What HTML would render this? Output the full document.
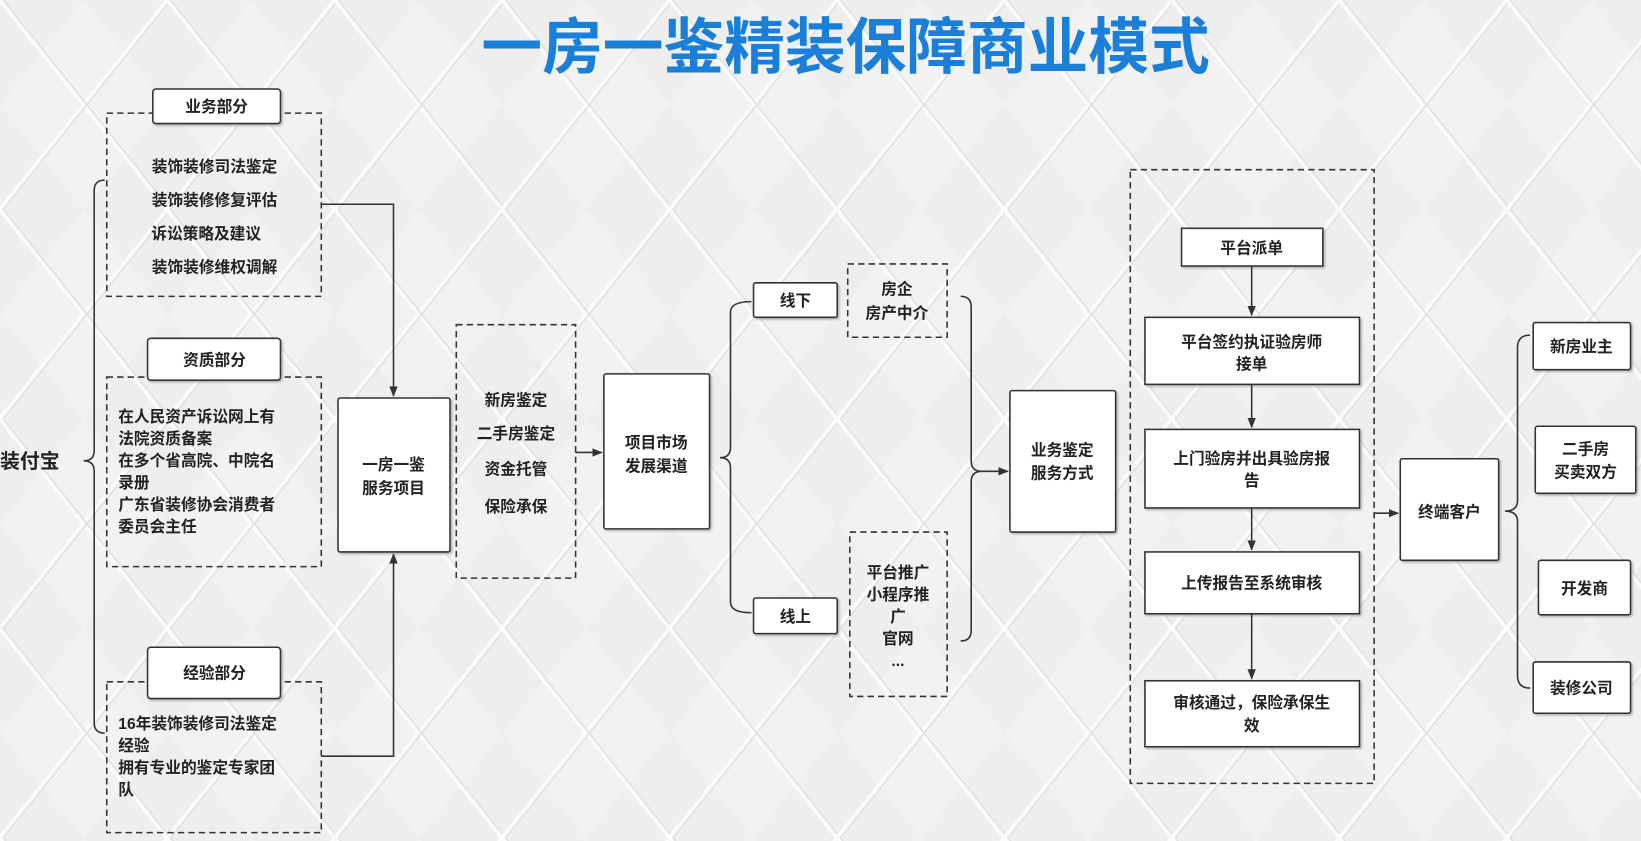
<!DOCTYPE html>
<html><head><meta charset="utf-8"><style>
html,body{margin:0;padding:0;background:#efefef;}
svg{display:block;}
text{font-family:"Liberation Sans","Noto Sans CJK SC",sans-serif;font-weight:bold;fill:#222;}
</style></head><body>
<svg width="1641" height="841" viewBox="0 0 1568 803" preserveAspectRatio="none" xmlns="http://www.w3.org/2000/svg">
<defs>
<pattern id="p" width="160" height="200" patternUnits="userSpaceOnUse">
<rect width="160" height="200" fill="#eeeeee"/>
<path d="M80 0 L160 100 L80 200 L0 100 Z" fill="#f2f2f2"/>
<path d="M0 0 L80 100 L0 200 M160 0 L80 100 L160 200" stroke="#fbfbfb" stroke-width="4" fill="none"/>
<path d="M0 0 L80 100 L0 200 M160 0 L80 100 L160 200" stroke="#e0e0e0" stroke-width="1.5" fill="none" transform="translate(3,0)"/>
</pattern>
<marker id="a" markerWidth="10" markerHeight="10" refX="9" refY="5" orient="auto" markerUnits="userSpaceOnUse"><path d="M0 1 L10 5 L0 9 Z" fill="#333"/></marker>
<filter id="s"><feDropShadow dx="1.5" dy="1.5" stdDeviation="1" flood-color="#888" flood-opacity="0.6"/></filter>
</defs>
<rect width="1568" height="803" fill="url(#p)"/>
<text x="808" y="65" text-anchor="middle" font-size="58" style="fill:#1a7fd8">一房一鉴精装保障商业模式</text>

<g fill="none" stroke="#333" stroke-width="1.5">
<path d="M100 172 Q90 172 90 182 L90 430 Q90 440 80 440 Q90 440 90 450 L90 690 Q90 700 100 700"/>
</g>
<text x="0" y="447" font-size="19">装付宝</text>

<g fill="#fff" stroke="#333" stroke-width="1.5" stroke-dasharray="6,4">
<rect x="102" y="108" width="205" height="175" fill="none"/>
<rect x="102" y="360" width="205" height="181" fill="none"/>
<rect x="102" y="651" width="205" height="144" fill="none"/>
<rect x="436" y="310" width="114" height="242" fill="none"/>
<rect x="810" y="252" width="95" height="70" fill="none"/>
<rect x="812" y="508" width="93" height="157" fill="none"/>
<rect x="1080" y="162" width="233" height="586" fill="none"/>
</g>
<g fill="#fff" stroke="#333" stroke-width="1.5" filter="url(#s)">
<rect x="146" y="85" width="122" height="33" rx="3"/>
<rect x="141" y="323" width="127" height="40" rx="3"/>
<rect x="141" y="618" width="127" height="49" rx="3"/>
<rect x="323" y="380" width="107" height="147" rx="2"/>
<rect x="577" y="357" width="101" height="148" rx="2"/>
<rect x="720" y="270" width="80" height="33" rx="2"/>
<rect x="720" y="571" width="80" height="34" rx="2"/>
<rect x="965" y="373" width="101" height="135" rx="2"/>
<rect x="1129" y="218" width="135" height="36"/>
<rect x="1094" y="303" width="205" height="64"/>
<rect x="1094" y="410" width="205" height="75"/>
<rect x="1094" y="527" width="205" height="59"/>
<rect x="1094" y="650" width="205" height="63"/>
<rect x="1338" y="438" width="94" height="97" rx="2"/>
<rect x="1465" y="308" width="93" height="45" rx="2"/>
<rect x="1467" y="407" width="96" height="64" rx="2"/>
<rect x="1470" y="535" width="88" height="52" rx="2"/>
<rect x="1465" y="632" width="93" height="49" rx="2"/>
</g>

<g fill="none" stroke="#333" stroke-width="1.5">
<path d="M307 195 L376 195 L376 378" marker-end="url(#a)"/>
<path d="M307 722 L376 722 L376 529" marker-end="url(#a)"/>
<path d="M550 432 L575 432" marker-end="url(#a)"/>
<path d="M718 288 Q698 288 698 298 L698 427 Q698 437 688 437 Q698 437 698 447 L698 575 Q698 585 718 585"/>
<path d="M918 283 Q928 283 928 293 L928 440 Q928 450 938 450 Q928 450 928 460 L928 602 Q928 612 918 612"/>
<path d="M938 450 L963 450" marker-end="url(#a)"/>
<path d="M1196 254 L1196 301" marker-end="url(#a)"/>
<path d="M1196 367 L1196 408" marker-end="url(#a)"/>
<path d="M1196 485 L1196 525" marker-end="url(#a)"/>
<path d="M1196 586 L1196 648" marker-end="url(#a)"/>
<path d="M1313 490 L1336 490" marker-end="url(#a)"/>
<path d="M1462 320 Q1450 320 1450 332 L1450 478 Q1450 488 1438 488 Q1450 488 1450 498 L1450 645 Q1450 657 1462 657"/>
</g>

<g font-size="15" text-anchor="middle">
<text x="207" y="107">业务部分</text>
<text x="205" y="349">资质部分</text>
<text x="205" y="648">经验部分</text>
<text x="205" y="164">装饰装修司法鉴定</text>
<text x="205" y="196">装饰装修修复评估</text>
<text x="197" y="228">诉讼策略及建议</text>
<text x="205" y="260">装饰装修维权调解</text>
<text x="376" y="449">一房一鉴</text>
<text x="376" y="471">服务项目</text>
<text x="493" y="387">新房鉴定</text>
<text x="493" y="419">二手房鉴定</text>
<text x="493" y="453">资金托管</text>
<text x="493" y="489">保险承保</text>
<text x="627" y="428">项目市场</text>
<text x="627" y="450">发展渠道</text>
<text x="760" y="292">线下</text>
<text x="760" y="594">线上</text>
<text x="857" y="281">房企</text>
<text x="857" y="304">房产中介</text>
<text x="858" y="552">平台推广</text>
<text x="858" y="573">小程序推</text>
<text x="858" y="594">广</text>
<text x="858" y="615">官网</text>
<text x="858" y="636">...</text>
<text x="1015" y="435">业务鉴定</text>
<text x="1015" y="457">服务方式</text>
<text x="1196" y="242">平台派单</text>
<text x="1196" y="332">平台签约执证验房师</text>
<text x="1196" y="353">接单</text>
<text x="1196" y="443">上门验房并出具验房报</text>
<text x="1196" y="464">告</text>
<text x="1196" y="562">上传报告至系统审核</text>
<text x="1196" y="676">审核通过，保险承保生</text>
<text x="1196" y="698">效</text>
<text x="1385" y="494">终端客户</text>
<text x="1511" y="336">新房业主</text>
<text x="1515" y="434">二手房</text>
<text x="1515" y="456">买卖双方</text>
<text x="1514" y="567">开发商</text>
<text x="1511" y="662">装修公司</text>
</g>
<g font-size="15">
<text x="113" y="403">在人民资产诉讼网上有</text>
<text x="113" y="424">法院资质备案</text>
<text x="113" y="445">在多个省高院、中院名</text>
<text x="113" y="466">录册</text>
<text x="113" y="487">广东省装修协会消费者</text>
<text x="113" y="508">委员会主任</text>
<text x="113" y="696">16年装饰装修司法鉴定</text>
<text x="113" y="717">经验</text>
<text x="113" y="738">拥有专业的鉴定专家团</text>
<text x="113" y="759">队</text>
</g>
</svg>
</body></html>
